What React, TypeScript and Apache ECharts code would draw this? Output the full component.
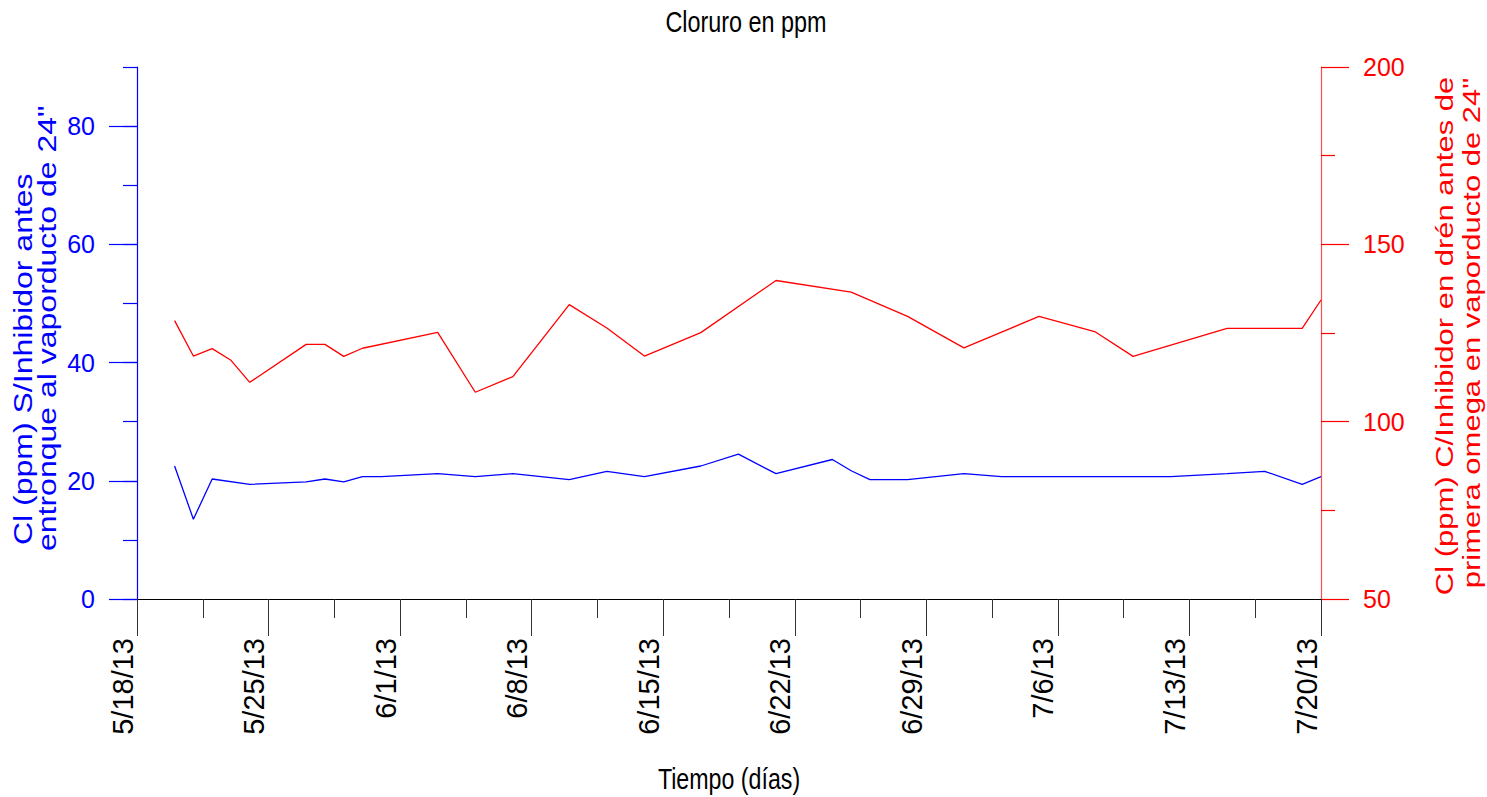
import { useEffect, useRef } from "react";
import * as echarts from "echarts";

// ---- data ----
const startDate = "2013-05-18";
const endDate = "2013-07-20";

const blueDates = [
  "2013-05-20", "2013-05-21", "2013-05-22", "2013-05-24", "2013-05-27", "2013-05-28",
  "2013-05-29", "2013-05-30", "2013-05-31", "2013-06-03", "2013-06-05", "2013-06-07",
  "2013-06-10", "2013-06-12", "2013-06-14", "2013-06-17", "2013-06-19", "2013-06-21",
  "2013-06-24", "2013-06-25", "2013-06-26", "2013-06-28", "2013-07-01", "2013-07-03",
  "2013-07-05", "2013-07-08", "2013-07-12", "2013-07-15", "2013-07-17", "2013-07-19",
  "2013-07-20",
];
const blueValues = [
  22.5, 13.5, 20.3, 19.4, 19.8, 20.3,
  19.8, 20.7, 20.7, 21.2, 20.7, 21.2,
  20.2, 21.6, 20.7, 22.5, 24.5, 21.2,
  23.6, 21.7, 20.2, 20.2, 21.2, 20.7,
  20.7, 20.7, 20.7, 21.2, 21.6, 19.4,
  20.7,
];

const redDates = [
  "2013-05-20", "2013-05-21", "2013-05-22", "2013-05-23", "2013-05-24", "2013-05-27",
  "2013-05-28", "2013-05-29", "2013-05-30", "2013-06-03", "2013-06-05", "2013-06-07",
  "2013-06-10", "2013-06-12", "2013-06-14", "2013-06-17", "2013-06-21", "2013-06-25",
  "2013-06-28", "2013-07-01", "2013-07-05", "2013-07-08", "2013-07-10", "2013-07-15",
  "2013-07-19", "2013-07-20",
];
const redValues = [
  128.5, 118.5, 120.6, 117.3, 111.1, 121.8,
  121.8, 118.4, 120.7, 125.2, 108.3, 112.7,
  133.0, 126.4, 118.5, 125.1, 139.8, 136.5,
  129.7, 120.8, 129.7, 125.3, 118.4, 126.3,
  126.3, 134.3,
];

const leftLabelValues = [0, 20, 40, 60, 80];
const titleText = "Cloruro en ppm";
const xAxisName = "Tiempo (días)";
const leftNameLines = ["Cl (ppm) S/Inhibidor antes", 'entronque al vaporducto de 24"'];
const rightNameLines = ["Cl (ppm) C/Inhibidor en drén antes de", 'primera omega en vaporducto de 24"'];

// ---- helpers ----
const DAY = 86400000;
function toUTC(s: string) {
  const [y, m, d] = s.split("-").map(Number);
  return Date.UTC(y, m - 1, d);
}
const startMs = toUTC(startDate);
const spanDays = (toUTC(endDate) - startMs) / DAY;
const dayOf = (s: string) => (toUTC(s) - startMs) / DAY;
const fmtDay = (v: number) => {
  const dt = new Date(startMs + Math.round(v) * DAY);
  return `${dt.getUTCMonth() + 1}/${dt.getUTCDate()}/${String(dt.getUTCFullYear()).slice(2)}`;
};

const REG = "'Liberation Sans', Arial, sans-serif";
const BLUE = "#0000ff";
const RED = "#ff0000";

export default function App() {
  const ref = useRef<HTMLDivElement>(null);

  useEffect(() => {
    if (!ref.current) return;
    const chart = echarts.init(ref.current, null, { renderer: "svg" });

    const blueData = blueDates.map((d, i) => [dayOf(d), blueValues[i]]);
    const redData = redDates.map((d, i) => [dayOf(d), redValues[i]]);

    chart.setOption({
      animation: false,
      backgroundColor: "#ffffff",
      grid: { left: 137, right: 166, top: 67, bottom: 198, containLabel: false },
      xAxis: {
        type: "value",
        min: 0,
        max: spanDays,
        interval: 7,
        axisLine: { show: true, onZero: false, lineStyle: { color: "#000", width: 1.2 } },
        axisTick: { show: true, length: 37, lineStyle: { color: "#333", width: 1 } },
        minorTick: { show: true, splitNumber: 2, length: 19, lineStyle: { color: "#333", width: 1 } },
        splitLine: { show: false },
        minorSplitLine: { show: false },
        axisLabel: {
          rotate: 90,
          margin: 39,
          verticalAlign: "bottom",
          fontFamily: REG,
          fontSize: 29,
          color: "#000",
          formatter: (v: number) => fmtDay(v),
        },
      },
      yAxis: [
        {
          type: "value",
          position: "left",
          min: 0,
          max: 90,
          interval: 10,
          axisLine: { show: true, onZero: false, lineStyle: { color: BLUE, width: 1.2 } },
          axisTick: { show: true, length: 14, lineStyle: { color: BLUE, width: 1.2 } },
          axisLabel: { show: false },
          splitLine: { show: false },
        },
        {
          type: "value",
          position: "left",
          min: 0,
          max: 90,
          interval: 10,
          axisLine: { show: false },
          axisTick: { show: true, length: 28, customValues: leftLabelValues, lineStyle: { color: BLUE, width: 1.2 } },
          axisLabel: {
            show: true,
            customValues: leftLabelValues,
            margin: 42,
            fontFamily: REG,
            fontSize: 25,
            color: BLUE,
          },
          splitLine: { show: false },
        },
        {
          type: "value",
          position: "right",
          min: 50,
          max: 200,
          interval: 50,
          axisLine: { show: true, onZero: false, lineStyle: { color: "#ff4d4d", width: 1.2 } },
          axisTick: { show: true, length: 28, lineStyle: { color: RED, width: 1.2 } },
          minorTick: { show: true, splitNumber: 2, length: 14, lineStyle: { color: RED, width: 1.2 } },
          axisLabel: { margin: 42, fontFamily: REG, fontSize: 25, color: RED },
          splitLine: { show: false },
          minorSplitLine: { show: false },
        },
      ],
      series: [
        {
          type: "line",
          name: "S/Inhibidor",
          yAxisIndex: 0,
          data: blueData,
          symbol: "none",
          lineStyle: { color: BLUE, width: 1.3 },
          itemStyle: { color: BLUE },
        },
        {
          type: "line",
          name: "C/Inhibidor",
          yAxisIndex: 2,
          data: redData,
          symbol: "none",
          lineStyle: { color: RED, width: 1.3 },
          itemStyle: { color: RED },
        },
      ],
      graphic: [
        {
          type: "text",
          x: 746,
          y: 22,
          scaleX: 0.78,
          style: { text: titleText, fontFamily: REG, fontSize: 30, fill: "#000", align: "center", verticalAlign: "middle" },
        },
        {
          type: "text",
          x: 729,
          y: 779,
          scaleX: 0.8,
          style: { text: xAxisName, fontFamily: REG, fontSize: 29, fill: "#000", align: "center", verticalAlign: "middle" },
        },
        {
          type: "text",
          x: 23,
          y: 545,
          rotation: Math.PI / 2,
          scaleY: 0.8,
          style: { text: leftNameLines[0], fontFamily: REG, fontSize: 32, fill: BLUE, align: "left", verticalAlign: "middle" },
        },
        {
          type: "text",
          x: 47,
          y: 551,
          rotation: Math.PI / 2,
          scaleY: 0.8,
          style: { text: leftNameLines[1], fontFamily: REG, fontSize: 32, fill: BLUE, align: "left", verticalAlign: "middle" },
        },
        {
          type: "text",
          x: 1445,
          y: 336,
          rotation: Math.PI / 2,
          scaleY: 0.8,
          style: { text: rightNameLines[0], fontFamily: REG, fontSize: 31, fill: RED, align: "center", verticalAlign: "middle" },
        },
        {
          type: "text",
          x: 1472,
          y: 333,
          rotation: Math.PI / 2,
          scaleY: 0.8,
          style: { text: rightNameLines[1], fontFamily: REG, fontSize: 31, fill: RED, align: "center", verticalAlign: "middle" },
        },
      ],
    });

    return () => chart.dispose();
  }, []);

  return (
    <div
      ref={ref}
      style={{ position: "absolute", left: 0, top: 0, width: 1487, height: 797 }}
    />
  );
}
